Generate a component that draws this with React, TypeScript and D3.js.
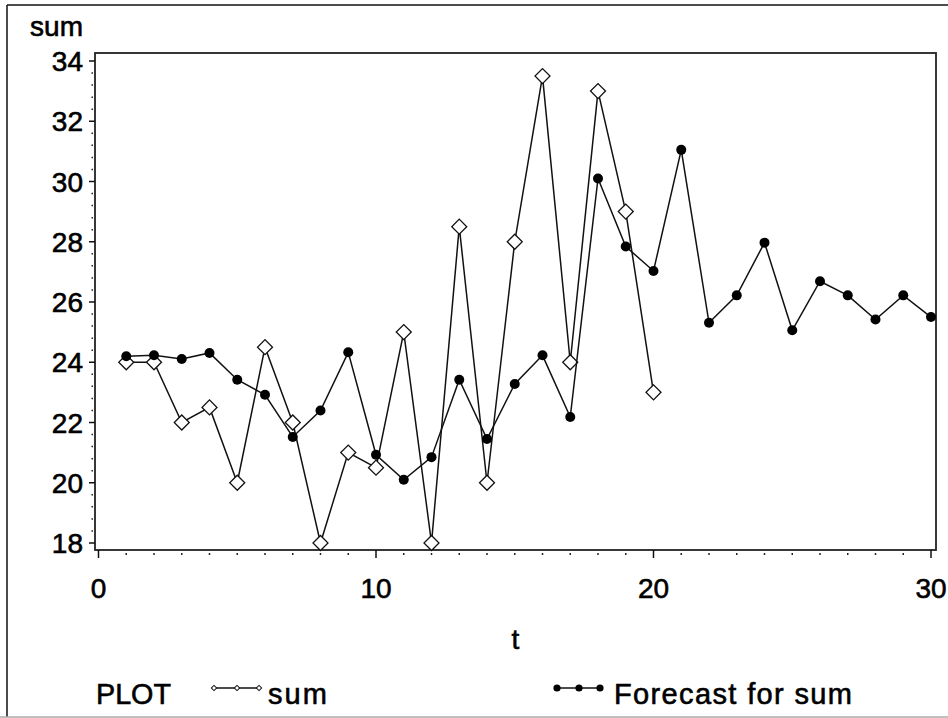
import React from 'react';
import * as d3 from 'd3';

const timeSteps = [1, 2, 3, 4, 5, 6, 7, 8, 9, 10, 11, 12, 13, 14, 15, 16, 17, 18, 19, 20, 21, 22, 23, 24, 25, 26, 27, 28, 29, 30];
const sumValues = [24.0, 24.0, 22.0, 22.5, 20.0, 24.5, 22.0, 18.0, 21.0, 20.5, 25.0, 18.0, 28.5, 20.0, 28.0, 33.5, 24.0, 33.0, 29.0, 23.0];
const forecastValues = [
  24.2, 24.23, 24.11, 24.31, 23.42, 22.92, 21.52, 22.4, 24.33, 20.93, 20.1, 20.85, 23.42, 21.45, 23.28,
  24.23, 22.18, 30.1, 27.84, 27.03, 31.05, 25.31, 26.22, 27.97, 25.06, 26.69, 26.22, 25.42, 26.22, 25.5,
];
const xTicks = [0, 10, 20, 30];
const yTicks = [18, 20, 22, 24, 26, 28, 30, 32, 34];

const W = 948;
const H = 718;
const FONT = '"Liberation Sans", Arial, sans-serif';

// plot frame
const frame = { left: 95, right: 936, top: 53, bottom: 550 };

// SAS-style text: a bit heavier than regular
const txt = { fill: '#000', stroke: '#000', strokeWidth: 0.6 };

const App = () => {
  const x = d3.scaleLinear().domain([0, 30]).range([98.5, 931]);
  const y = d3.scaleLinear().domain([18, 34]).range([543, 61]);

  const sumPts = sumValues.map((v, i) => [timeSteps[i], v] as [number, number]);
  const fcPts = forecastValues.map((v, i) => [timeSteps[i], v] as [number, number]);

  const line = d3
    .line<[number, number]>()
    .x(d => x(d[0]))
    .y(d => y(d[1]));

  const diamond = d3.symbol().type(d3.symbolSquare).size(112)()!;
  const smallDiamond = d3.symbol().type(d3.symbolSquare).size(14)()!;

  // minor ticks
  const xMinor = d3.range(0, 31).filter(v => v % 10 !== 0);
  const yMinor: number[] = [];
  for (let i = 0; i < yTicks.length - 1; i++) {
    for (let k = 1; k < 5; k++) yMinor.push(yTicks[i] + (k * 2) / 5);
  }

  return (
    <svg
      width={W}
      height={H}
      style={{ position: 'absolute', left: 0, top: 0, display: 'block', background: '#fff' }}
      fontFamily={FONT}
    >
      {/* outer border */}
      <line x1={7} y1={5} x2={7} y2={717} stroke="#111" strokeWidth={1.5} />
      <line x1={7} y1={5} x2={W} y2={5} stroke="#111" strokeWidth={1.5} />
      <line x1={0} y1={717} x2={W} y2={717} stroke="#aaa" strokeWidth={1.5} />

      {/* plot frame */}
      <rect
        x={frame.left}
        y={frame.top}
        width={frame.right - frame.left}
        height={frame.bottom - frame.top}
        fill="none"
        stroke="#222"
        strokeWidth={1.8}
      />

      {/* y axis ticks */}
      {yTicks.map(t => (
        <g key={'y' + t}>
          <line x1={89} x2={frame.left} y1={y(t)} y2={y(t)} stroke="#111" strokeWidth={1.5} />
          <text x={83} y={y(t) + 10} textAnchor="end" fontSize={28} {...txt}>
            {t}
          </text>
        </g>
      ))}
      {yMinor.map(t => (
        <line key={'ym' + t} x1={91.5} x2={93} y1={y(t)} y2={y(t)} stroke="#222" strokeWidth={1.5} />
      ))}

      {/* x axis ticks */}
      {xTicks.map(t => (
        <g key={'x' + t}>
          <line x1={x(t)} x2={x(t)} y1={frame.bottom} y2={558} stroke="#111" strokeWidth={1.5} />
          <text x={x(t)} y={598} textAnchor="middle" fontSize={28} {...txt}>
            {t}
          </text>
        </g>
      ))}
      {xMinor.map(t => (
        <line key={'xm' + t} x1={x(t)} x2={x(t)} y1={553} y2={555} stroke="#222" strokeWidth={1.5} />
      ))}

      {/* axis titles */}
      <text x={83} y={36} textAnchor="end" fontSize={28} {...txt}>
        sum
      </text>
      <text x={(frame.left + frame.right) / 2} y={649} textAnchor="middle" fontSize={28} {...txt}>
        t
      </text>

      {/* sum series */}
      <path d={line(sumPts)!} fill="none" stroke="#111" strokeWidth={1.5} />
      {sumPts.map(d => (
        <path
          key={'s' + d[0]}
          d={diamond}
          transform={`translate(${x(d[0])},${y(d[1])}) rotate(45)`}
          fill="#fff"
          stroke="#111"
          strokeWidth={1.3}
        />
      ))}

      {/* forecast series */}
      <path d={line(fcPts)!} fill="none" stroke="#111" strokeWidth={1.5} />
      {fcPts.map(d => (
        <circle key={'f' + d[0]} cx={x(d[0])} cy={y(d[1])} r={5} fill="#000" />
      ))}

      {/* legend */}
      <text x={96} y={704} fontSize={29} {...txt} textLength={75} lengthAdjust="spacingAndGlyphs">
        PLOT
      </text>
      <line x1={213} x2={260} y1={688} y2={688} stroke="#111" strokeWidth={1.3} />
      {[214, 237, 259].map(cx => (
        <path
          key={'ld' + cx}
          d={smallDiamond}
          transform={`translate(${cx},688) rotate(45)`}
          fill="#fff"
          stroke="#111"
          strokeWidth={1}
        />
      ))}
      <text x={268} y={704} fontSize={29} {...txt} textLength={59} lengthAdjust="spacing">
        sum
      </text>

      <line x1={556} x2={601} y1={688} y2={688} stroke="#111" strokeWidth={1.5} />
      {[557, 579, 600].map(cx => (
        <circle key={'lc' + cx} cx={cx} cy={688} r={3.6} fill="#000" />
      ))}
      <text x={614} y={704} fontSize={29} {...txt} textLength={238} lengthAdjust="spacing">
        Forecast for sum
      </text>
    </svg>
  );
};

export default App;
